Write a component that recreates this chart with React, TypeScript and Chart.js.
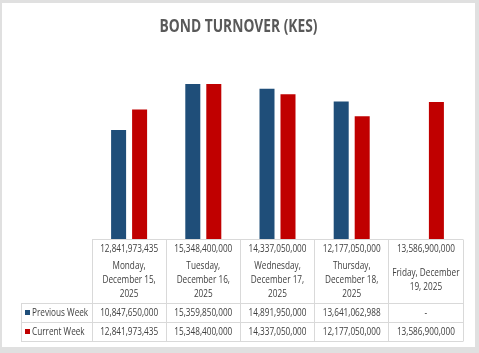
import React, { useEffect, useRef } from "react";
import { Chart, registerables } from "chart.js";

Chart.register(...registerables);

const chartTitle = "BOND TURNOVER (KES)";
const categories: string[][] = [
  ["Monday,", "December 15,", "2025"],
  ["Tuesday,", "December 16,", "2025"],
  ["Wednesday,", "December 17,", "2025"],
  ["Thursday,", "December 18,", "2025"],
  ["Friday, December", "19, 2025"],
];
const seriesNames = ["Previous Week", "Current Week"];
const previousWeek: (number | null)[] = [10847650000, 15359850000, 14891950000, 13641062988, null];
const currentWeek: (number | null)[] = [12841973435, 15348400000, 14337050000, 12177050000, 13586900000];
const seriesColors = ["#1f4e79", "#c00000"];

const TABLE_FONT = '10px "Open Sans", sans-serif';
const TITLE_FONT = 'bold 17px "Open Sans", sans-serif';
const TEXT_COLOR = "#404040";
const TITLE_COLOR = "#595959";
const LINE_COLOR = "#d9d9d9";
const CONDENSE = 0.82;

const fmt = (v: number | null) => (v == null ? "-" : v.toLocaleString("en-US"));

function drawText(ctx: CanvasRenderingContext2D, text: string, x: number, y: number, align: CanvasTextAlign, sx: number) {
  ctx.save();
  ctx.translate(x, y);
  ctx.scale(sx, 1);
  ctx.textAlign = align;
  ctx.fillText(text, 0, 0);
  ctx.restore();
}

const backgroundPlugin = {
  id: "bgPanel",
  beforeDraw(chart: any) {
    const { ctx, width, height } = chart;
    ctx.save();
    ctx.fillStyle = "#e0e0e0";
    ctx.fillRect(0, 0, width, height);
    ctx.fillStyle = "#ffffff";
    ctx.fillRect(2, 3, 473, 344);
    ctx.font = TITLE_FONT;
    ctx.fillStyle = TITLE_COLOR;
    ctx.textBaseline = "middle";
    drawText(ctx, chartTitle, 238.5, 27.5, "center", 0.81);
    ctx.restore();
  },
};

const tablePlugin = {
  id: "dataTable",
  afterDraw(chart: any) {
    const { ctx, chartArea } = chart;
    const left = chartArea.left;
    const right = chartArea.right;
    const base = chartArea.bottom;
    const n = categories.length;
    const colW = (right - left) / n;
    const headerBottom = base + 64;
    const row1Bottom = headerBottom + 18.5;
    const row2Bottom = row1Bottom + 19.5;
    const legendLeft = 21;
    const p = (v: number) => Math.round(v - 0.5) + 0.5;

    ctx.save();
    ctx.strokeStyle = LINE_COLOR;
    ctx.lineWidth = 1;
    ctx.beginPath();
    ctx.moveTo(left, p(base));
    ctx.lineTo(right, p(base));
    ctx.moveTo(legendLeft, p(headerBottom));
    ctx.lineTo(right, p(headerBottom));
    ctx.moveTo(legendLeft, p(row1Bottom));
    ctx.lineTo(right, p(row1Bottom));
    ctx.moveTo(legendLeft, p(row2Bottom));
    ctx.lineTo(right, p(row2Bottom));
    for (let i = 0; i <= n; i++) {
      const x = p(left + i * colW);
      ctx.moveTo(x, base);
      ctx.lineTo(x, row2Bottom);
    }
    ctx.moveTo(p(legendLeft), headerBottom);
    ctx.lineTo(p(legendLeft), row2Bottom);
    ctx.stroke();

    ctx.font = TABLE_FONT;
    ctx.fillStyle = TEXT_COLOR;
    ctx.textBaseline = "middle";
    const xScale = chart.scales.x;
    const dateCenter = base + 40.5;
    const lineGap = 14;
    const r1 = (headerBottom + row1Bottom) / 2;
    const r2 = (row1Bottom + row2Bottom) / 2;
    categories.forEach((lines, i) => {
      const cx = xScale.getPixelForValue(i);
      drawText(ctx, fmt(currentWeek[i]), cx, base + 10, "center", CONDENSE);
      const startY = dateCenter - ((lines.length - 1) * lineGap) / 2;
      lines.forEach((ln, j) => drawText(ctx, ln, cx, startY + j * lineGap, "center", CONDENSE));
      drawText(ctx, fmt(previousWeek[i]), cx, r1, "center", CONDENSE);
      drawText(ctx, fmt(currentWeek[i]), cx, r2, "center", CONDENSE);
    });

    [r1, r2].forEach((cy, k) => {
      ctx.fillStyle = seriesColors[k];
      ctx.fillRect(25, Math.round(cy) - 3, 5, 5);
      ctx.fillStyle = TEXT_COLOR;
      drawText(ctx, seriesNames[k], 32, cy, "left", CONDENSE);
    });
    ctx.restore();
  },
};

export default function App() {
  const canvasRef = useRef<HTMLCanvasElement | null>(null);

  useEffect(() => {
    document.body.style.margin = "0";
    const canvas = canvasRef.current;
    if (!canvas) return;
    const chart = new Chart(canvas, {
      type: "bar",
      data: {
        labels: categories,
        datasets: [
          {
            label: seriesNames[0],
            data: previousWeek,
            backgroundColor: seriesColors[0],
            borderColor: "rgba(255,255,255,0.45)",
            borderWidth: 1,
            categoryPercentage: 0.566,
            barPercentage: 0.81,
          },
          {
            label: seriesNames[1],
            data: currentWeek,
            backgroundColor: seriesColors[1],
            borderColor: "rgba(255,255,255,0.45)",
            borderWidth: 1,
            categoryPercentage: 0.566,
            barPercentage: 0.81,
          },
        ],
      },
      options: {
        responsive: false,
        animation: false,
        devicePixelRatio: 1,
        layout: { padding: { left: 92, right: 16, top: 76.4, bottom: 113.5 } },
        plugins: {
          legend: { display: false },
          tooltip: { enabled: false },
          title: { display: false },
        },
        scales: {
          x: { display: false, grid: { display: false } },
          y: { display: false, min: 0, max: 16000000000, grid: { display: false } },
        },
      },
      plugins: [backgroundPlugin, tablePlugin],
    });
    return () => chart.destroy();
  }, []);

  return (
    <div style={{ width: 479, height: 353 }}>
      <canvas ref={canvasRef} width={479} height={353} style={{ display: "block" }} />
    </div>
  );
}
